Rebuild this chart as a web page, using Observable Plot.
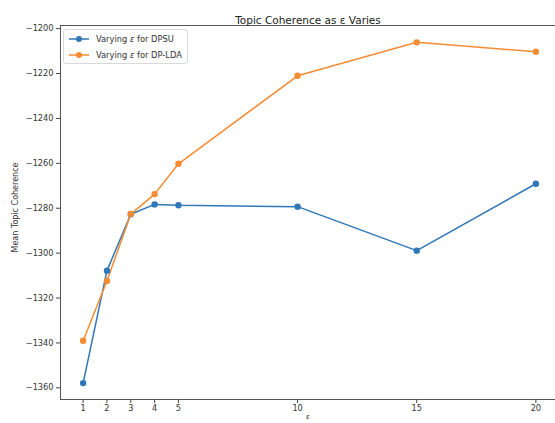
<!DOCTYPE html>
<html>
<head>
<meta charset="utf-8">
<script src="https://cdn.jsdelivr.net/npm/d3@7"></script>
<script src="https://cdn.jsdelivr.net/npm/@observablehq/plot@0.6"></script>
<style>
  html, body { margin: 0; padding: 0; background: #fff; }
  #wrap { position: relative; width: 555px; height: 423px; overflow: hidden; font-family: "DejaVu Sans", sans-serif; }
  #legend { position: absolute; left: 63px; top: 29px; width: 125px; height: 35px; border: 1px solid #d9d9d9; border-radius: 3px; background: rgba(255,255,255,0.85); font-size: 8.3px; color: #333; box-sizing: border-box; }
  .row { position: absolute; left: 4px; height: 14px; display: flex; align-items: center; white-space: nowrap; }
  .row svg { margin-right: 6px; }
</style>
</head>
<body>
<div id="wrap"></div>
<script>
const epsilons = [1, 2, 3, 4, 5, 10, 15, 20];
const dpsu = [-1357.9, -1307.8, -1282.7, -1278.3, -1278.7, -1279.3, -1298.9, -1269.1];
const dplda = [-1339.0, -1312.4, -1282.6, -1273.7, -1260.2, -1221.0, -1206.1, -1210.3];
const seriesNames = ["Varying ε for DPSU", "Varying ε for DP-LDA"];
const seriesColors = ["#2f77b7", "#f58b32"];
const yTicks = [-1360, -1340, -1320, -1300, -1280, -1260, -1240, -1220, -1200];

const data = [];
epsilons.forEach((e, i) => {
  data.push({eps: e, value: dpsu[i], series: seriesNames[0]});
  data.push({eps: e, value: dplda[i], series: seriesNames[1]});
});

const fmt = d3.format("d");
const plot = Plot.plot({
  width: 555,
  height: 423,
  marginTop: 25,
  marginBottom: 24,
  marginLeft: 60,
  marginRight: 0,
  style: { fontFamily: "DejaVu Sans, sans-serif", fontSize: "8.2px", color: "#333", background: "#fff", overflow: "visible" },
  x: { domain: [0.05, 20.95], range: [60, 558] },
  y: { domain: [-1365.2, -1198.6] },
  color: { domain: seriesNames, range: seriesColors },
  marks: [
    Plot.frame({ anchor: "top", stroke: "#444", strokeWidth: 0.9 }),
    Plot.frame({ anchor: "left", stroke: "#444", strokeWidth: 0.9 }),
    Plot.frame({ anchor: "bottom", stroke: "#444", strokeWidth: 0.9 }),
    Plot.axisX({ ticks: epsilons, tickFormat: fmt, tickSize: 4, tickPadding: 2, label: null, stroke: "#444" }),
    Plot.axisY({ ticks: yTicks, tickFormat: fmt, tickSize: 4, tickPadding: 3, label: null, stroke: "#444" }),
    Plot.line(data, { x: "eps", y: "value", z: "series", stroke: "series", strokeWidth: 1.5 }),
    Plot.dot(data, { x: "eps", y: "value", fill: "series", r: 3.2 }),
    Plot.text(["Topic Coherence as ε Varies"], { frameAnchor: "top", dy: -9, fontSize: 10.5, fill: "#222" }),
    Plot.text(["Mean Topic Coherence"], { frameAnchor: "left", textAnchor: "middle", dx: -45, dy: -5, rotate: -90, fontSize: 8, fill: "#333" }),
    Plot.text(["ε"], { frameAnchor: "bottom", dy: 19, fontSize: 7, fontStyle: "italic", fill: "#333" })
  ]
});

const wrap = document.getElementById("wrap");
wrap.appendChild(plot);

const legend = document.createElement("div");
legend.id = "legend";
seriesNames.forEach((name, i) => {
  const row = document.createElement("div");
  row.className = "row";
  row.style.top = (2 + i * 16) + "px";
  const label = name.replace("ε", "<i>ε</i>");
  row.innerHTML = `<svg width="22" height="8"><line x1="1" x2="21" y1="4" y2="4" stroke="${seriesColors[i]}" stroke-width="1.5"/><circle cx="11" cy="4" r="3" fill="${seriesColors[i]}"/></svg><span>${label}</span>`;
  legend.appendChild(row);
});
wrap.appendChild(legend);
</script>
</body>
</html>
